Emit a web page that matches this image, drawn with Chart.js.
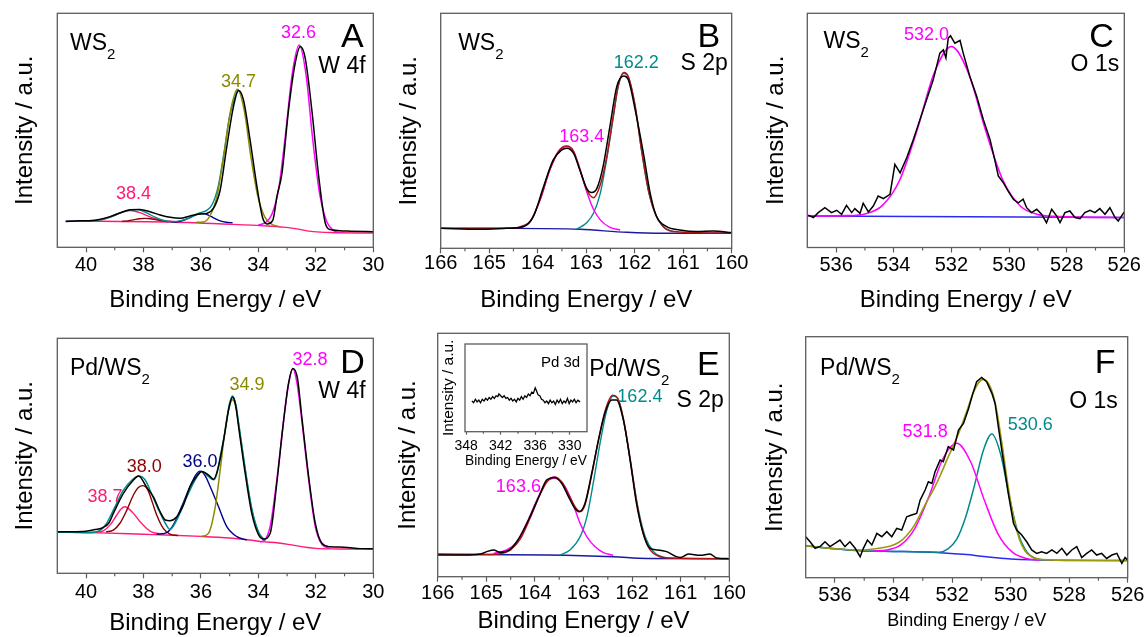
<!DOCTYPE html>
<html><head><meta charset="utf-8">
<script src="https://cdn.jsdelivr.net/npm/chart.js@4.4.1/dist/chart.umd.min.js"></script>
<style>
html,body{margin:0;padding:0;background:#fff;width:1147px;height:637px;overflow:hidden;position:relative}
canvas{position:absolute}
</style></head><body>
<canvas id="cA"></canvas><canvas id="cB"></canvas><canvas id="cC"></canvas>
<canvas id="cD"></canvas><canvas id="cE"></canvas><canvas id="cF"></canvas>
<canvas id="cI"></canvas>
<script>
// ---------- tick labels ----------
const ticksW = [30, 32, 34, 36, 38, 40];
const minorW = [31, 33, 35, 37, 39];
const ticksS = [160, 161, 162, 163, 164, 165, 166];
const minorS = [160.5, 161.5, 162.5, 163.5, 164.5, 165.5];
const ticksO = [526, 528, 530, 532, 534, 536];
const minorO = [527, 529, 531, 533, 535];
const ticksPd = [330, 336, 342, 348];
const minorPd = [333, 339, 345];

// ---------- Panel A : WS2, W 4f ----------
const aData = [[40.71,11.0],[40.2,11.3],[39.63,11.7],[39.16,13.1],[38.8,14.8],[38.47,16.0],[38.12,16.2],[37.77,15.2],[37.42,13.8],[37.07,12.8],[36.72,12.4],[36.38,13.4],[36.03,14.2],[35.8,14.5],[35.56,16.7],[35.33,24.5],[35.1,43.0],[34.87,60.0],[34.69,67.0],[34.52,63.0],[34.29,45.9],[34.05,25.9],[33.85,12.5],[33.7,10.0],[33.5,11.5],[33.35,22.0],[33.18,31.6],[32.95,58.7],[32.72,78.6],[32.54,85.8],[32.37,80.8],[32.14,58.7],[31.9,30.2],[31.67,10.3],[31.5,7.6],[30.8,6.9],[30.0,6.6]];
const aEnv = [[40.7,11.2],[40.0,11.25],[39.7,11.4],[39.4,12.0],[39.1,13.1],[38.8,14.7],[38.5,15.9],[38.2,16.1],[37.9,14.8],[37.6,12.85],[37.3,11.45],[37.0,10.95],[36.7,11.4],[36.4,12.6],[36.1,14.5],[35.8,15.8],[35.6,18.5],[35.4,26.0],[35.2,40.2],[35.0,56.1],[34.73,67.5]];
const aBg = [[40.7,11.2],[37.2,10.8],[34.87,9.8],[33.7,9.1],[33.13,8.6],[32.78,8.1],[32.08,6.7],[31.5,6.3],[30.0,6.1]];
const aP326 = [[34.0,9.6],[33.77,10.4],[33.53,14.1],[33.29,25.3],[33.06,47.9],[32.82,74.2],[32.58,86.4],[32.34,73.6],[32.11,46.2],[31.87,23.0],[31.63,11.2],[31.39,7.2],[31.15,6.3]];
const aP347 = [[36.16,10.7],[35.92,10.8],[35.68,13.6],[35.44,22.0],[35.21,38.8],[34.97,58.3],[34.73,67.5],[34.49,58.3],[34.26,38.6],[34.02,21.8],[33.78,13.0],[33.54,9.9],[33.3,8.9]];
const aP359 = [[37.03,10.8],[36.82,10.9],[36.61,11.5],[36.4,12.6],[36.18,13.9],[35.97,14.5],[35.76,13.9],[35.55,12.5],[35.33,11.3],[35.12,10.7],[34.9,10.5]];
const aP384 = [[39.95,11.3],[39.65,11.5],[39.35,12.2],[39.05,13.5],[38.75,15.0],[38.45,15.7],[38.15,14.9],[37.85,13.4],[37.55,12.1],[37.25,11.3],[36.95,11.1]];
const aP380 = [[38.75,11.1],[38.55,11.3],[38.35,11.7],[38.15,12.2],[37.95,12.4],[37.75,12.2],[37.55,11.7],[37.35,11.3],[37.15,10.9]];

// ---------- Panel B : WS2, S 2p ----------
const bData = [[166,8.5],[165.19,8.1],[164.64,8.5],[164.3,9.2],[164.09,13.5],[163.88,26.2],[163.68,37.6],[163.51,41.8],[163.4,42.6],[163.26,40.4],[163.13,33.3],[162.99,25.5],[162.89,23.7],[162.78,25.5],[162.65,35.0],[162.51,52.0],[162.37,68.8],[162.23,73.3],[162.13,71.6],[161.99,58.9],[161.82,40.4],[161.68,23.4],[161.55,13.5],[161.34,9.2],[161.07,7.8],[160.72,7.1],[160.38,7.4],[160.0,6.7]];
const bEnv = [[166,8.5],[165,8.5],[164.5,8.6],[164.3,9.6],[164.15,11.6],[163.95,20.8],[163.75,33.5],[163.57,41.3],[163.4,43.5],[163.26,41.3],[163.13,33.8],[162.99,25.0],[162.85,21.5],[162.71,27.0],[162.58,38.5],[162.44,56.5],[162.34,69.2],[162.22,74.8],[162.13,73.0],[161.99,60.5],[161.86,42.0],[161.72,25.0],[161.58,15.0],[161.41,9.2],[161.2,7.1],[160.5,6.5],[160,6.5]];
const bBg = [[166,8.5],[164.5,8.5],[163.13,8.1],[162.16,6.8],[161.41,6.4],[160,6.4]];
const bP1634 = [[164.36,8.8],[164.16,11.3],[163.95,20.6],[163.75,33.3],[163.57,41.1],[163.4,43.3],[163.26,41.1],[163.13,33.3],[162.99,24.1],[162.85,16.6],[162.71,12.1],[162.51,8.9],[162.3,7.8]];
const bP1622 = [[163.2,8.1],[162.99,10.9],[162.85,14.9],[162.71,23.4],[162.58,37.6],[162.44,56.0],[162.34,68.8],[162.23,74.5],[162.13,72.8],[161.99,60.3],[161.86,41.8],[161.72,24.8],[161.58,14.9],[161.41,9.2],[161.2,7.1]];

// ---------- Panel C : WS2, O 1s ----------
const cData = [[536.97,13.8],[536.79,12.8],[536.62,14.9],[536.39,17.0],[536.16,14.9],[535.98,15.9],[535.81,14.2],[535.64,18.0],[535.46,14.9],[535.35,16.6],[535.17,14.6],[535.06,18.9],[534.88,15.2],[534.71,17.7],[534.54,22.0],[534.36,20.9],[534.13,22.7],[533.96,35.5],[533.78,31.9],[533.55,38.3],[533.32,46.1],[533.09,54.6],[532.86,63.1],[532.63,71.6],[532.4,83.0],[532.28,84.4],[532.19,80.9],[532.11,89.4],[532.03,90.4],[531.88,87.2],[531.7,88.4],[531.59,83.0],[531.36,73.0],[531.12,64.5],[530.89,54.6],[530.66,46.1],[530.55,40.4],[530.37,30.5],[530.2,27.7],[530.03,24.1],[529.85,20.6],[529.68,19.1],[529.51,20.6],[529.39,17.0],[529.22,14.9],[529.04,16.3],[528.87,14.2],[528.7,10.6],[528.52,16.3],[528.35,13.5],[528.23,10.6],[528.06,14.9],[527.89,15.6],[527.71,12.8],[527.54,12.3],[527.37,14.9],[527.19,15.9],[527.02,14.9],[526.85,16.6],[526.67,14.2],[526.5,17.0],[526.32,12.8],[526.21,11.3],[526.0,15.2]];
const cP5320 = [[537,13.5],[535.6,13.6],[535.0,14.3],[534.4,17.9],[533.8,28.6],[533.2,49.7],[532.6,74.4],[532.0,85.8],[531.4,74.2],[530.8,49.5],[530.2,28.4],[529.6,17.6],[529.0,14.1],[528.4,13.3],[526,12.8]];
const cBg = [[537,13.5],[526,12.8]];

// ---------- Panel D : Pd/WS2, W 4f ----------
const dData = [[41,17.7],[40.5,17.7],[40,17.9],[39.7,18.6],[39.4,19.5],[39.2,21.5],[39.05,25.5],[38.7,34.0],[38.35,39.7],[38.17,41.4],[37.89,36.6],[37.66,32.6],[37.42,26.2],[37.24,22.7],[37.08,22.4],[36.84,24.1],[36.61,29.1],[36.38,36.9],[36.14,41.4],[35.97,43.3],[35.73,41.8],[35.56,40.0],[35.39,45.4],[35.21,56.7],[35.03,70.0],[34.9,74.9],[34.8,72.0],[34.69,62.4],[34.46,42.6],[34.23,25.5],[33.99,16.3],[33.82,14.6],[33.59,17.0],[33.36,38.3],[33.12,65.2],[32.95,80.9],[32.8,87.2],[32.64,83.0],[32.49,66.7],[32.25,41.1],[32.02,21.3],[31.79,12.8],[31.5,11.3],[31.03,11.1],[30.45,10.5],[30,10.4]];
const dEnv = [[41,17.5],[40,17.3],[39.6,17.8],[39.3,21.0],[39.05,26.9],[38.7,35.4],[38.4,39.7],[38.17,41.4],[37.94,39.7],[37.7,33.3],[37.47,26.9],[37.24,21.3],[37.08,18.6],[36.84,22.7],[36.49,32.6],[36.14,41.1],[35.97,43.3],[35.73,41.1],[35.56,39.8],[35.44,42.6],[35.33,49.6],[35.15,61.0],[35.02,71.5],[34.9,75.5],[34.78,71.5],[34.69,64.0],[34.46,44.5],[34.23,27.5],[33.99,17.5],[33.76,14.0]];
const dBg = [[41,17.5],[39.5,17.2],[38,16.6],[37,16.2],[36,15.7],[35,15.0],[34.3,14.2],[33.9,13.5],[33.3,12.9],[32.9,12.2],[32.3,11.0],[32,10.6],[31.5,10.4],[30,10.3]];
const dP387 = [[39.9,17.4],[39.6,17.5],[39.4,18.1],[39.16,20.6],[38.93,24.8],[38.78,27.4],[38.64,28.3],[38.5,27.3],[38.35,25.5],[38.12,22.0],[37.89,19.1],[37.66,17.3],[37.3,16.8]];
const dP380 = [[39.3,17.6],[39.05,18.4],[38.82,21.3],[38.58,26.9],[38.35,33.3],[38.18,36.5],[38.02,37.3],[37.85,35.5],[37.7,30.5],[37.54,24.8],[37.31,19.1],[37.08,16.7],[36.8,16.1]];
const dP360 = [[37.54,16.6],[37.19,17.3],[36.96,20.6],[36.67,28.4],[36.38,36.9],[36.2,41.5],[36.03,43.5],[35.85,41.5],[35.68,36.9],[35.39,28.4],[35.1,19.9],[34.75,15.6],[34.4,14.2]];
const dP349 = [[36.0,15.6],[35.74,17.0],[35.5,28.4],[35.33,44.0],[35.16,61.0],[35.03,70.0],[34.9,73.8],[34.78,70.5],[34.69,63.8],[34.46,44.0],[34.23,27.0],[33.99,17.0],[33.76,13.5]];
const dP328 = [[33.95,13.4],[33.82,13.8],[33.59,20.0],[33.36,39.7],[33.12,65.2],[32.95,80.5],[32.8,87.2],[32.65,80.5],[32.49,65.2],[32.25,39.7],[32.02,19.9],[31.79,12.3],[31.5,10.5]];

// ---------- Panel E : Pd/WS2, S 2p ----------
const eData = [[166,8.9],[165.47,8.9],[165.13,9.3],[164.99,10.3],[164.85,11.0],[164.72,10.0],[164.51,11.2],[164.31,16.4],[164.1,24.7],[163.89,34.2],[163.76,39.7],[163.59,40.8],[163.45,38.4],[163.31,32.9],[163.18,28.1],[163.09,26.7],[162.97,30.1],[162.83,42.5],[162.69,56.2],[162.56,67.1],[162.42,72.6],[162.32,72.6],[162.18,64.4],[162.04,47.9],[161.91,30.1],[161.77,17.8],[161.63,11.6],[161.49,11.0],[161.29,10.3],[161.12,8.5],[161.01,7.9],[160.84,9.3],[160.6,8.8],[160.4,9.3],[160.26,7.7],[160,7.4]];
const eEnv = [[166,9.2],[165,9.1],[164.7,9.5],[164.5,11.0],[164.3,15.5],[164.1,24.0],[163.9,33.5],[163.75,39.0],[163.6,41.0],[163.45,39.0],[163.3,33.5],[163.15,28.0],[163.07,26.8],[162.97,29.5],[162.83,42.0],[162.69,56.5],[162.55,68.5],[162.4,74.5],[162.3,73.5],[162.18,65.0],[162.04,48.5],[161.9,30.0],[161.77,17.5],[161.63,11.0],[161.45,8.4],[161.2,7.7],[160,7.4]];
const eBg = [[166,9.2],[163.76,8.9],[162.39,8.2],[161.7,7.5],[160,7.4]];
const eP1636 = [[164.85,9.6],[164.58,11.0],[164.37,14.4],[164.17,21.9],[163.96,31.5],[163.76,39.0],[163.59,40.4],[163.38,37.0],[163.2,29.0],[163.07,21.9],[162.93,16.4],[162.76,12.3],[162.59,9.9],[162.39,8.8]];
const eP1624 = [[163.48,8.9],[163.28,11.0],[163.07,16.4],[162.93,24.7],[162.8,38.4],[162.66,54.8],[162.52,68.5],[162.39,74.2],[162.28,72.6],[162.15,61.6],[162.01,43.8],[161.87,27.4],[161.73,16.4],[161.56,10.3],[161.36,7.9]];

// ---------- Inset : Pd 3d ----------
const pdData = [[347.0,35],[346.7,33],[346.4,37],[346.1,34],[345.8,36],[345.5,33],[345.2,37],[344.9,35],[344.6,38],[344.3,36],[344.0,39],[343.7,37],[343.4,40],[343.1,38],[342.8,41],[342.5,40],[342.3,43],[342.0,41],[341.7,39],[341.4,41],[341.1,38],[340.8,39],[340.5,36],[340.2,38],[339.9,35],[339.6,37],[339.3,34],[339.0,38],[338.7,36],[338.4,40],[338.1,37],[337.8,41],[337.5,39],[337.2,43],[336.9,41],[336.6,45],[336.3,44],[336.0,50],[335.8,47],[335.5,42],[335.2,41],[334.9,37],[334.6,36],[334.3,33],[334.0,35],[333.7,32],[333.4,36],[333.1,33],[332.8,35],[332.5,31],[332.2,36],[331.9,33],[331.6,37],[331.3,32],[331.0,35],[330.7,33],[330.4,38],[330.1,32],[329.8,36],[329.5,34],[329.2,37],[328.9,33],[328.6,36],[328.2,34]];

// ---------- Panel F : Pd/WS2, O 1s ----------
const fData = [[537.0,17.0],[536.85,14.9],[536.68,12.2],[536.51,12.9],[536.34,14.9],[536.17,12.9],[536.0,14.2],[535.83,15.6],[535.66,12.9],[535.49,14.9],[535.31,12.2],[535.14,8.7],[535.03,12.2],[534.89,15.6],[534.74,13.6],[534.57,18.4],[534.4,17.0],[534.23,19.1],[534.06,17.0],[533.89,20.5],[533.72,19.8],[533.55,25.3],[533.38,26.0],[533.21,26.7],[533.09,32.2],[532.92,36.4],[532.81,39.8],[532.69,39.1],[532.58,44.0],[532.41,48.8],[532.3,48.1],[532.13,54.4],[531.95,53.0],[531.78,61.3],[531.61,64.0],[531.44,70.0],[531.3,76.0],[531.16,81.3],[530.99,83.1],[530.82,81.3],[530.64,76.5],[530.53,72.3],[530.42,62.7],[530.25,48.8],[530.08,35.0],[529.9,22.5],[529.79,19.8],[529.62,17.7],[529.45,14.9],[529.28,11.5],[529.11,10.1],[528.94,10.8],[528.77,10.1],[528.59,11.5],[528.42,10.1],[528.25,12.2],[528.08,9.4],[527.91,11.5],[527.74,12.9],[527.57,8.4],[527.4,10.1],[527.23,11.5],[527.06,9.4],[526.89,10.1],[526.72,8.0],[526.54,9.4],[526.37,10.1],[526.2,5.9],[526.09,8.4],[526.0,7.3]];
const fEnv = [[537,13.3],[536.3,12.3],[535.5,11.6],[535,11.5],[534.5,12.2],[534.1,13.2],[533.8,14.8],[533.55,17.5],[533.3,21.5],[533.1,26.0],[532.87,31.5],[532.64,36.4],[532.4,42.5],[532.18,48.8],[531.95,55.0],[531.73,61.3],[531.5,69.0],[531.3,76.0],[531.1,80.8],[530.93,82.3],[530.75,80.5],[530.6,76.0],[530.47,69.0],[530.3,56.0],[530.1,39.0],[529.9,25.0],[529.7,16.0],[529.5,11.0],[529.3,8.8],[529.1,7.8],[528.5,7.3],[526,7.1]];
const fBg = [[537,13.3],[536,12.0],[535,11.1],[534,10.9],[533,10.7],[532.4,10.4],[531.5,9.6],[531,8.9],[530.5,8.3],[530,7.8],[529.3,7.4],[528.5,7.2],[526,7.1]];
const fP5318 = [[534.7,11.1],[534.22,11.5],[533.74,13.7],[533.27,20.5],[532.79,33.7],[532.32,49.2],[531.84,55.8],[531.37,48.2],[530.89,31.9],[530.42,17.9],[529.94,10.6],[529.47,8.0],[528.99,7.3]];
const fP5306 = [[537,13.3],[536,12.0],[535,11.1],[534,10.9],[533.0,10.7],[532.44,10.6],[532.14,12.0],[531.84,16.0],[531.54,25.0],[531.24,38.0],[530.94,52.5],[530.64,59.6],[530.34,51.2],[530.04,33.3],[529.74,18.3],[529.44,10.6],[529.14,8.0],[528.84,7.3]];

// ---------- styling ----------
const FONT = '"Liberation Sans", Arial, Helvetica, sans-serif';
const COL = {black:'#000000', magenta:'#FF00FF', olive:'#8A8A00', teal:'#008B8B', navy:'#00008B', brown:'#8B0000', pink:'#FF1A75', red:'#B01515', navyBg:'#1A1AA0', blue:'#2A2AF0', oliveF:'#9A9A10'};
Chart.defaults.font.family = FONT;

function ds(pts, color, width, smooth){
  return {data: pts.map(p => ({x: p[0], y: p[1]})), borderColor: color, borderWidth: width,
    pointRadius: 0, fill: false, tension: 0, cubicInterpolationMode: smooth ? 'monotone' : 'default'};
}

function makeDeco(cfg){
  return {
    id: 'deco',
    afterDatasetsDraw(chart){
      const {ctx, chartArea: a, scales: {x, y}} = chart;
      ctx.save();
      ctx.strokeStyle = '#5c5c5c'; ctx.lineWidth = 1.3;
      ctx.strokeRect(a.left, a.top, a.right - a.left, a.bottom - a.top);
      ctx.lineWidth = 1.2;
      cfg.minor.forEach(v => {
        const px = x.getPixelForValue(v);
        ctx.beginPath(); ctx.moveTo(px, a.bottom); ctx.lineTo(px, a.bottom + cfg.minorLen); ctx.stroke();
      });
      (cfg.labels || []).forEach(l => {
        ctx.fillStyle = l.c || '#000';
        ctx.font = (l.s || 18) + 'px ' + FONT;
        ctx.textBaseline = 'alphabetic';
        ctx.textAlign = l.a || 'center';
        const px = x.getPixelForValue(l.x), py = y.getPixelForValue(l.y);
        ctx.fillText(l.t, px, py);
        if (l.sub) {
          const w = ctx.measureText(l.t).width;
          ctx.font = (l.subS || 15) + 'px ' + FONT;
          ctx.textAlign = 'left';
          ctx.fillText(l.sub, px + (l.a === 'left' ? w : w / 2), py + (l.subDy || 9));
        }
      });
      ctx.restore();
    }
  };
}

function makePanel(id, cfg){
  const cv = document.getElementById(id);
  cv.width = cfg.pos.w; cv.height = cfg.pos.h;
  cv.style.left = cfg.pos.left + 'px'; cv.style.top = cfg.pos.top + 'px';
  cv.style.width = cfg.pos.w + 'px'; cv.style.height = cfg.pos.h + 'px';
  const box = cfg.box, pos = cfg.pos;
  new Chart(cv, {
    type: 'line',
    data: {datasets: cfg.series},
    options: {
      responsive: false, animation: false, devicePixelRatio: 1,
      layout: {padding: {left: 0, top: box.t - pos.top, right: pos.left + pos.w - box.r, bottom: 0}},
      plugins: {legend: {display: false}, tooltip: {enabled: false}},
      scales: {
        x: {type: 'linear', reverse: true, min: cfg.xMin, max: cfg.xMax,
          afterBuildTicks: s => { s.ticks = cfg.majors.map(v => ({value: v})); },
          afterFit: s => { s.height = pos.top + pos.h - box.b; },
          ticks: {font: {family: FONT, size: cfg.tickSize}, color: '#000', padding: cfg.tickPad,
            maxRotation: 0, autoSkip: false, callback: v => String(v)},
          grid: {drawOnChartArea: false, drawTicks: true, tickLength: cfg.tickLen, tickColor: '#5c5c5c', tickWidth: 1.2},
          border: {display: false},
          title: {display: true, text: 'Binding Energy / eV', color: '#000',
            font: {family: FONT, size: cfg.xTitleSize}, padding: {top: 0, bottom: cfg.xTitlePad}}
        },
        y: {type: 'linear', min: 0, max: 100,
          afterFit: s => { s.width = box.l - pos.left; },
          ticks: {display: false}, grid: {display: false}, border: {display: false},
          title: {display: true, text: 'Intensity / a.u.', color: '#000',
            font: {family: FONT, size: cfg.yTitleSize}, padding: {top: cfg.yTitlePad, bottom: 0}}
        }
      }
    },
    plugins: [makeDeco(cfg)]
  });
}

const common = {tickLen: 5, minorLen: 3, tickSize: 20, xTitleSize: 24, yTitleSize: 24};

makePanel('cA', Object.assign({}, common, {
  pos: {left: 0, top: 0, w: 395, h: 318}, box: {l: 57.3, t: 13.3, r: 373.3, b: 247.3},
  xMin: 30, xMax: 41, majors: ticksW, minor: minorW, tickPad: 1.5, xTitlePad: 3.6, yTitlePad: 10.6,
  series: [ds(aData, COL.black, 1.5, true), ds(aP326, COL.magenta, 1.5, true), ds(aP347, COL.olive, 1.5, true),
    ds(aEnv, COL.teal, 1.4, true), ds(aP380, COL.brown, 1.3, true), ds(aP384, COL.pink, 1.4, true),
    ds(aP359, COL.navy, 1.3, true), ds(aBg, COL.pink, 1.4, true)],
  labels: [
    {x: 30.73, y: 85.7, t: 'A', s: 34}, {x: 31.09, y: 74.4, t: 'W 4f', s: 23},
    {x: 40.56, y: 84.3, t: 'WS', sub: '2', s: 23, a: 'left'},
    {x: 38.35, y: 20.5, t: '38.4', c: COL.pink}, {x: 34.69, y: 68.4, t: '34.7', c: COL.olive},
    {x: 32.6, y: 89.3, t: '32.6', c: COL.magenta}]
}));

makePanel('cB', Object.assign({}, common, {
  pos: {left: 385, top: 0, w: 370, h: 318}, box: {l: 440.7, t: 13.3, r: 731.7, b: 248.3},
  xMin: 160, xMax: 166, majors: ticksS, minor: minorS, tickPad: -2, xTitlePad: 3.6, yTitlePad: 9.6,
  series: [ds(bData, COL.black, 1.5, true), ds(bEnv, COL.red, 1.5, true), ds(bP1634, COL.magenta, 1.4, true),
    ds(bP1622, COL.teal, 1.4, true), ds(bBg, COL.navyBg, 1.4, true)],
  labels: [
    {x: 160.47, y: 85.8, t: 'B', s: 34}, {x: 160.57, y: 75.9, t: 'S 2p', s: 23},
    {x: 165.64, y: 84.4, t: 'WS', sub: '2', s: 23, a: 'left'},
    {x: 163.09, y: 45.4, t: '163.4', c: COL.magenta}, {x: 161.97, y: 76.6, t: '162.2', c: COL.teal}]
}));

makePanel('cC', Object.assign({}, common, {
  pos: {left: 755, top: 0, w: 392, h: 318}, box: {l: 807.3, t: 13.3, r: 1124.3, b: 247.5},
  xMin: 526, xMax: 537, majors: ticksO, minor: minorO, tickPad: 1, xTitlePad: 3.6, yTitlePad: 6.6,
  series: [ds(cData, COL.black, 1.5, false), ds(cP5320, COL.magenta, 1.6, true), ds(cBg, COL.blue, 1.5, false)],
  labels: [
    {x: 526.79, y: 85.8, t: 'C', s: 34}, {x: 527.02, y: 75.2, t: 'O 1s', s: 23},
    {x: 536.44, y: 85.1, t: 'WS', sub: '2', s: 23, a: 'left'},
    {x: 532.86, y: 88.7, t: '532.0', c: COL.magenta}]
}));

makePanel('cD', Object.assign({}, common, {
  pos: {left: 0, top: 320, w: 395, h: 317}, box: {l: 57.3, t: 338.3, r: 373.3, b: 573.3},
  xMin: 30, xMax: 41, majors: ticksW, minor: minorW, tickPad: 2.2, xTitlePad: -0.9, yTitlePad: 10.6,
  series: [ds(dData, COL.black, 1.5, true), ds(dEnv, COL.teal, 1.5, true), ds(dP328, COL.magenta, 1.5, true),
    ds(dP349, COL.olive, 1.5, true), ds(dP360, COL.navy, 1.4, true), ds(dP380, COL.brown, 1.4, true),
    ds(dP387, COL.pink, 1.4, true), ds(dBg, COL.pink, 1.4, true)],
  labels: [
    {x: 30.72, y: 85.1, t: 'D', s: 34}, {x: 31.09, y: 74.5, t: 'W 4f', s: 23},
    {x: 40.56, y: 84.4, t: 'Pd/WS', sub: '2', s: 23, a: 'left'},
    {x: 39.34, y: 30.5, t: '38.7', c: COL.pink}, {x: 37.97, y: 43.3, t: '38.0', c: COL.brown},
    {x: 36.03, y: 45.4, t: '36.0', c: COL.navy}, {x: 34.4, y: 78.0, t: '34.9', c: COL.olive},
    {x: 32.2, y: 88.7, t: '32.8', c: COL.magenta}]
}));

makePanel('cE', Object.assign({}, common, {
  pos: {left: 385, top: 320, w: 370, h: 317}, box: {l: 437.7, t: 333.3, r: 729.3, b: 576.7},
  xMin: 160, xMax: 166, majors: ticksS, minor: minorS, tickPad: -0.3, xTitlePad: 1.1, yTitlePad: 8.6,
  series: [ds(eData, COL.black, 1.5, true), ds(eEnv, COL.red, 1.5, true), ds(eP1636, COL.magenta, 1.4, true),
    ds(eP1624, COL.teal, 1.4, true), ds(eBg, COL.navyBg, 1.4, true)],
  labels: [
    {x: 160.43, y: 82.9, t: 'E', s: 34}, {x: 160.6, y: 69.9, t: 'S 2p', s: 23},
    {x: 162.88, y: 82.5, t: 'Pd/WS', sub: '2', s: 23, a: 'left'},
    {x: 161.84, y: 71.9, t: '162.4', c: COL.teal}, {x: 164.34, y: 34.9, t: '163.6', c: COL.magenta}]
}));

makePanel('cF', Object.assign({}, common, {
  pos: {left: 755, top: 320, w: 392, h: 317}, box: {l: 805.7, t: 336.7, r: 1127.7, b: 577.7},
  xMin: 526, xMax: 537, majors: ticksO, minor: minorO, tickPad: 0.8, xTitleSize: 18, xTitlePad: 4.7, yTitlePad: 5.6,
  series: [ds(fData, COL.black, 1.5, false), ds(fEnv, COL.oliveF, 1.6, true), ds(fP5318, COL.magenta, 1.5, true),
    ds(fP5306, COL.teal, 1.5, true), ds(fBg, COL.blue, 1.5, true)],
  labels: [
    {x: 526.77, y: 84.8, t: 'F', s: 34}, {x: 527.17, y: 70.3, t: 'O 1s', s: 23},
    {x: 536.51, y: 84.1, t: 'Pd/WS', sub: '2', s: 23, a: 'left'},
    {x: 532.92, y: 58.5, t: '531.8', c: COL.magenta}, {x: 529.33, y: 61.3, t: '530.6', c: COL.teal}]
}));

makePanel('cI', {
  pos: {left: 430, top: 338, w: 180, h: 134}, box: {l: 465, t: 344, r: 587, b: 431.7},
  xMin: 327, xMax: 348.2, majors: ticksPd, minor: minorPd, tickLen: 3, minorLen: 2,
  tickSize: 14, tickPad: 2.9, xTitleSize: 15.5, xTitlePad: 1.7, yTitleSize: 15.5, yTitlePad: 9.7,
  series: [ds(pdData, COL.black, 1.3, false)],
  labels: [{x: 331.6, y: 74, t: 'Pd 3d', s: 15}]
});
</script>
</body></html>
